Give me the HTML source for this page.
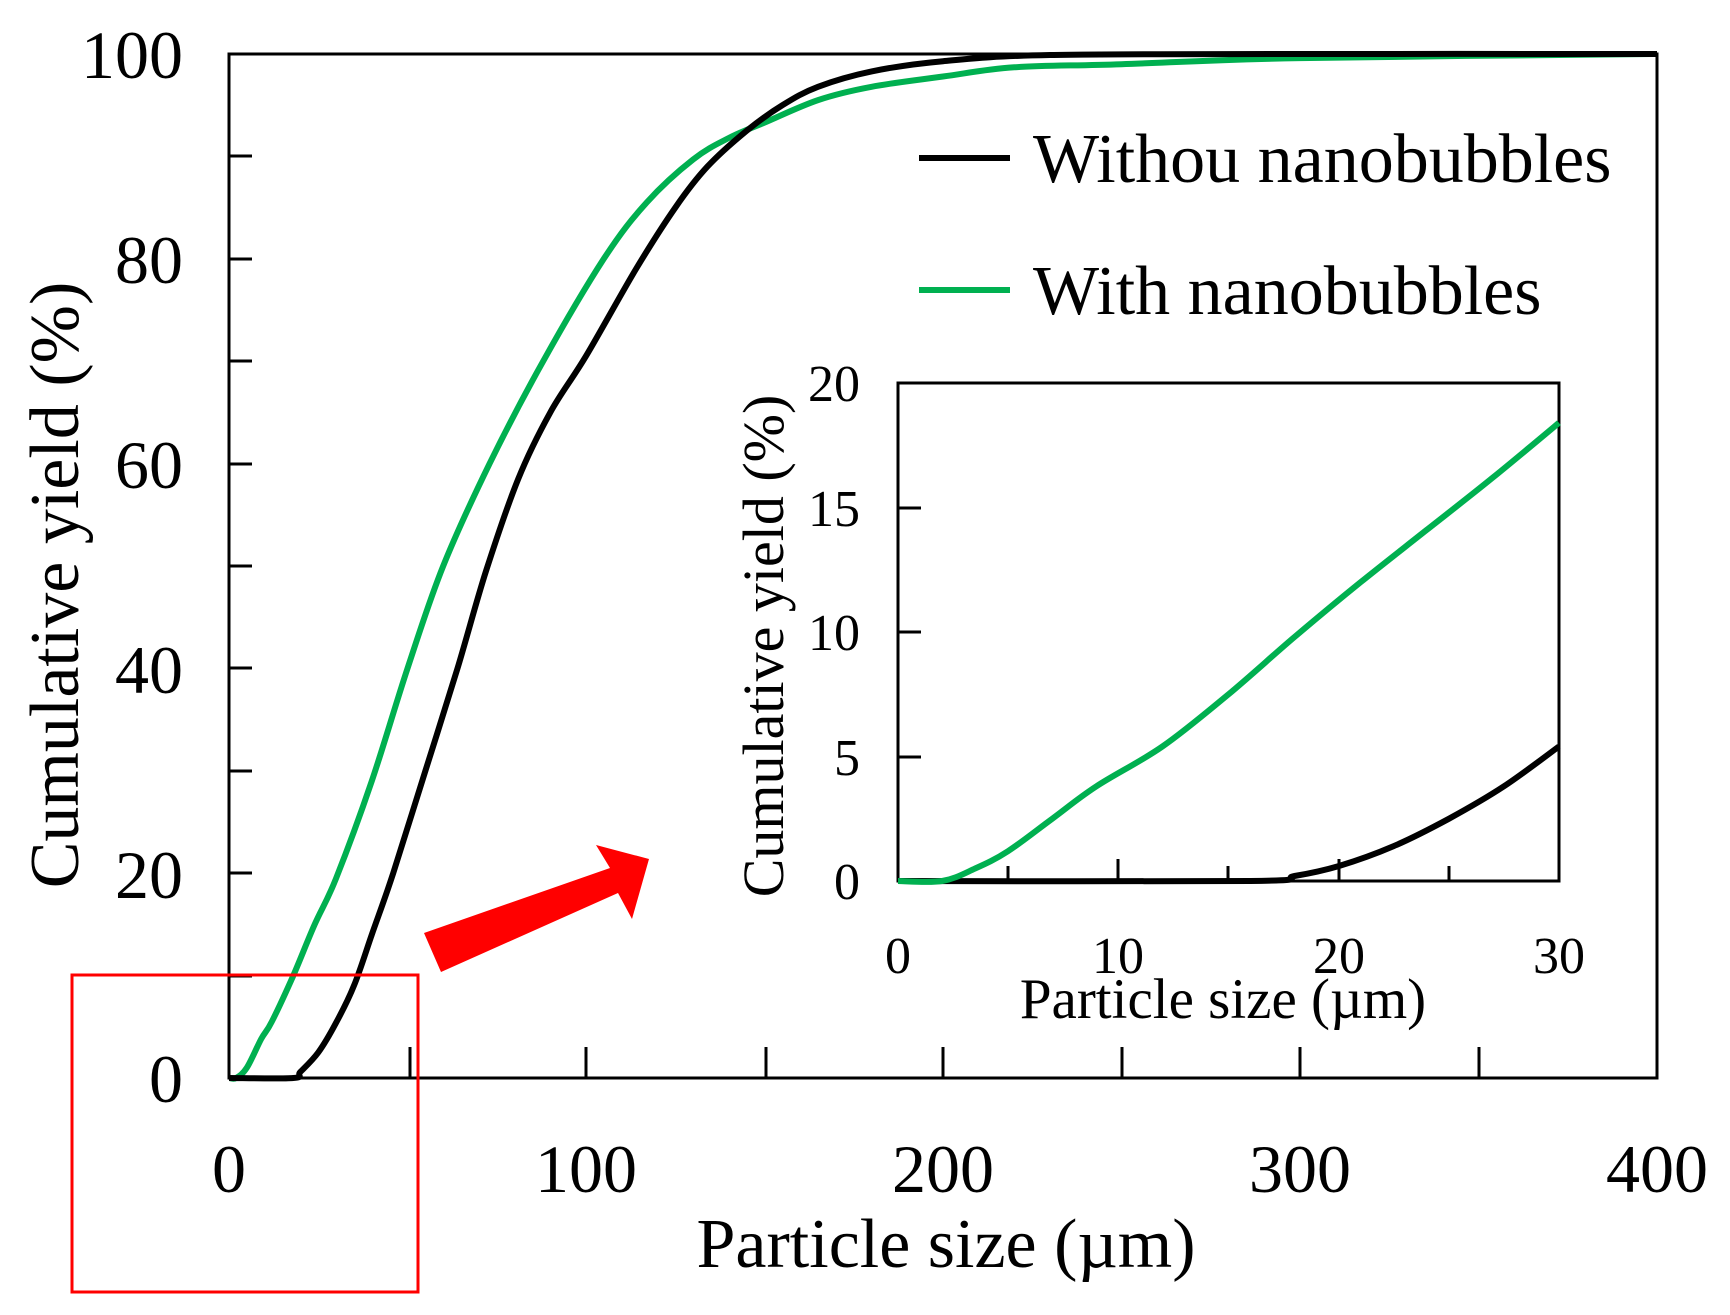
<!DOCTYPE html>
<html><head><meta charset="utf-8"><style>
html,body{margin:0;padding:0;background:#fff;}
svg{display:block;font-family:"Liberation Serif",serif;}
</style></head><body>
<svg id="s" width="1730" height="1315" viewBox="0 0 1730 1315" xmlns="http://www.w3.org/2000/svg">
<rect width="1730" height="1315" fill="#fff"/>
<rect x="229" y="54" width="1428" height="1024" fill="none" stroke="#000" stroke-width="3"/>
<g stroke="#000" stroke-width="3">
<line x1="229" y1="156" x2="252" y2="156"/><line x1="229" y1="259" x2="252" y2="259"/>
<line x1="229" y1="361" x2="252" y2="361"/><line x1="229" y1="464" x2="252" y2="464"/>
<line x1="229" y1="566" x2="252" y2="566"/><line x1="229" y1="668" x2="252" y2="668"/>
<line x1="229" y1="771" x2="252" y2="771"/><line x1="229" y1="873" x2="252" y2="873"/>
<line x1="229" y1="976" x2="252" y2="976"/>
<line x1="410" y1="1078" x2="410" y2="1047"/><line x1="586" y1="1078" x2="586" y2="1047"/>
<line x1="766" y1="1078" x2="766" y2="1047"/><line x1="943" y1="1078" x2="943" y2="1047"/>
<line x1="1122" y1="1078" x2="1122" y2="1047"/><line x1="1300" y1="1078" x2="1300" y2="1047"/>
<line x1="1479" y1="1078" x2="1479" y2="1047"/>
</g>
<g font-size="68" text-anchor="end" fill="#000">
<text x="183" y="78">100</text><text x="183" y="283">80</text><text x="183" y="488">60</text>
<text x="183" y="693">40</text><text x="183" y="898">20</text><text x="183" y="1102">0</text>
</g>
<g font-size="68" text-anchor="middle" fill="#000">
<text x="229" y="1192">0</text><text x="586" y="1192">100</text><text x="943" y="1192">200</text>
<text x="1300" y="1192">300</text><text x="1657" y="1192">400</text>
<text x="946" y="1267" font-size="70">Particle size (µm)</text>
<text transform="translate(78,585) rotate(-90)" font-size="70">Cumulative yield (%)</text>
</g>
<line x1="919" y1="158" x2="1010" y2="158" stroke="#000" stroke-width="6"/>
<line x1="919" y1="290" x2="1010" y2="290" stroke="#00b050" stroke-width="6"/>
<g font-size="70" fill="#000"><text x="1033" y="182">Withou nanobubbles</text><text x="1033" y="314">With nanobubbles</text></g>
<path id="gm" fill="none" stroke="#00b050" stroke-width="6"/>
<path id="bm" fill="none" stroke="#000" stroke-width="6"/>
<rect x="72" y="975" width="346" height="317" fill="none" stroke="#ff0000" stroke-width="3"/>
<polygon points="424,933 441,972 618,893 632,919 649,859 596,845 610,868" fill="#ff0000"/>
<rect x="898" y="383" width="661" height="498" fill="#fff" stroke="#000" stroke-width="3"/>
<g stroke="#000" stroke-width="3">
<line x1="898" y1="757" x2="921" y2="757"/><line x1="898" y1="632" x2="921" y2="632"/><line x1="898" y1="508" x2="921" y2="508"/>
<line x1="1008" y1="881" x2="1008" y2="866"/><line x1="1118" y1="881" x2="1118" y2="859"/>
<line x1="1228" y1="881" x2="1228" y2="866"/><line x1="1339" y1="881" x2="1339" y2="859"/>
<line x1="1449" y1="881" x2="1449" y2="866"/>
</g>
<g font-size="52" text-anchor="end" fill="#000">
<text x="860" y="401">20</text><text x="860" y="526">15</text><text x="860" y="650">10</text>
<text x="860" y="775">5</text><text x="860" y="899">0</text>
</g>
<g font-size="52" text-anchor="middle" fill="#000">
<text x="898" y="973">0</text><text x="1118" y="973">10</text><text x="1339" y="973">20</text><text x="1559" y="973">30</text>
<text x="1223" y="1018" font-size="57">Particle size (µm)</text>
<text transform="translate(783,646) rotate(-90)" font-size="58">Cumulative yield (%)</text>
</g>
<path id="bi" fill="none" stroke="#000" stroke-width="6"/>
<path id="gi" fill="none" stroke="#00b050" stroke-width="6"/>
</svg>
<script>
function cr(pts){var d="M"+pts[0][0].toFixed(1)+","+pts[0][1].toFixed(1);
for(var i=0;i<pts.length-1;i++){var p0=pts[i-1]||pts[i],p1=pts[i],p2=pts[i+1],p3=pts[i+2]||p2;
var c1=[p1[0]+(p2[0]-p0[0])/6,p1[1]+(p2[1]-p0[1])/6],c2=[p2[0]-(p3[0]-p1[0])/6,p2[1]-(p3[1]-p1[1])/6];
d+=" C"+c1[0].toFixed(1)+","+c1[1].toFixed(1)+" "+c2[0].toFixed(1)+","+c2[1].toFixed(1)+" "+p2[0].toFixed(1)+","+p2[1].toFixed(1);}
return d;}
function mm(a){return a.map(function(p){return [229+p[0]*3.57,1078-p[1]*10.24];});}
function mi(a){return a.map(function(p){return [898+p[0]*22.03,881-p[1]*24.9];});}
var B=[[0,0],[18,0],[20,0.6],[25,2.5],[30,5.4],[35,9],[40,14],[46,20],[55,30],[64,40],[72,49.5],[81,58.5],[90,65],[100,70.5],[114,79],[125,85],[134,89],[145,92.5],[155,95],[165,96.8],[180,98.3],[200,99.3],[230,99.9],[300,100],[400,100]];
var G=[[0,0],[2,0],[5,1],[9,3.8],[12,5.5],[18,10],[24,15],[30,19.5],[40,29],[50,40],[60,50],[73,60],[88,70],[105,80],[117,85.5],[130,89.7],[140,91.8],[150,93.3],[165,95.5],[180,96.8],[200,97.8],[220,98.7],[250,99],[300,99.6],[400,100]];
var BI=[[0,0],[16,0],[18,0.2],[20,0.6],[22.5,1.4],[25,2.5],[27.5,3.8],[30,5.4]];
var GI=[[0,0],[2,0],[3.5,0.5],[5,1.2],[7,2.5],[9,3.8],[12,5.4],[15,7.5],[18,9.8],[21,12],[24,14.1],[27,16.2],[30,18.4]];
document.getElementById("bm").setAttribute("d",cr(mm(B)));
document.getElementById("gm").setAttribute("d",cr(mm(G)));
document.getElementById("bi").setAttribute("d",cr(mi(BI)));
document.getElementById("gi").setAttribute("d",cr(mi(GI)));
</script>
</body></html>
